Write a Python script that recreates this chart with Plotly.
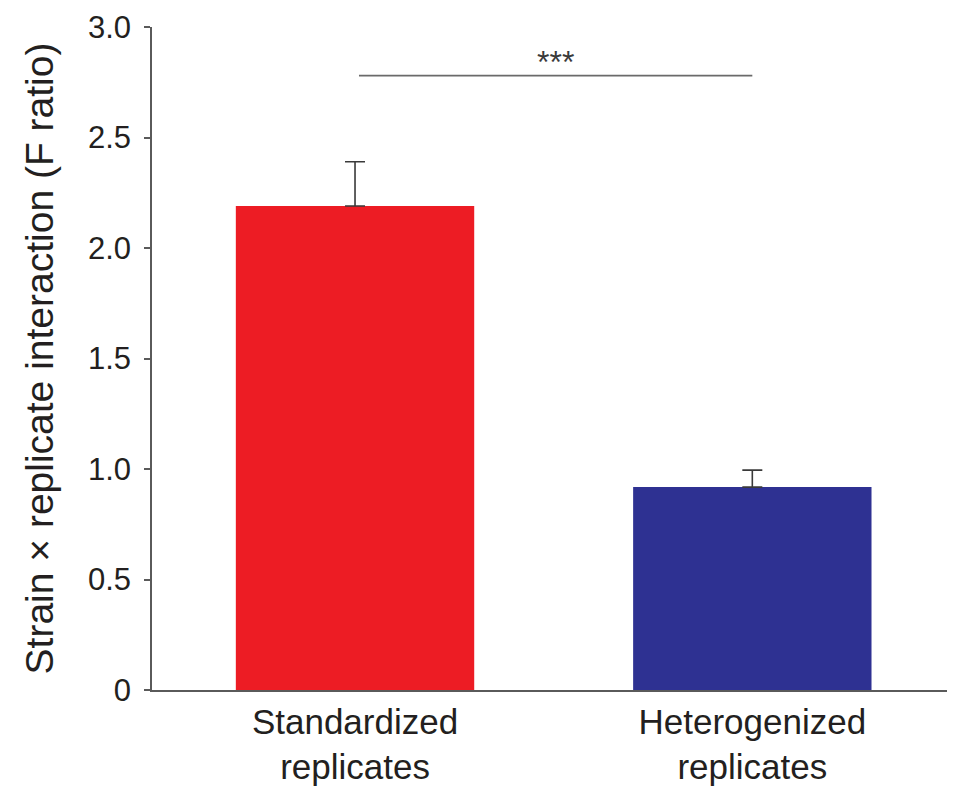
import plotly.graph_objects as go

categories = ["Standardized<br>replicates", "Heterogenized<br>replicates"]
positions = [0, 1]
values = [2.19, 0.918]
errors_up = [0.20, 0.077]
bar_colors = ["#ED1C24", "#2E3192"]
y_tick_vals = [0, 0.5, 1.0, 1.5, 2.0, 2.5, 3.0]
y_tick_text = ["0", "0.5", "1.0", "1.5", "2.0", "2.5", "3.0"]
sig_y = 2.78
sig_x = [0.01, 1.0]
sig_label = "***"

font_family = "Liberation Sans, Arial, sans-serif"
text_color = "#231F20"
axis_color = "#5a5a5a"

fig = go.Figure()
fig.add_trace(go.Bar(
    x=positions,
    y=values,
    width=0.6,
    marker=dict(color=bar_colors, line=dict(width=0)),
    error_y=dict(
        type="data",
        symmetric=False,
        array=errors_up,
        arrayminus=[0, 0],
        color="#3a3a3a",
        thickness=1.6,
        width=10,
    ),
    showlegend=False,
))

fig.add_shape(type="line", xref="x", yref="y",
              x0=sig_x[0], x1=sig_x[1], y0=sig_y, y1=sig_y,
              line=dict(color="#6a6a6a", width=1.6))
fig.add_annotation(x=(sig_x[0] + sig_x[1]) / 2, y=sig_y, xref="x", yref="y",
                   text=sig_label, showarrow=False, yanchor="bottom", yshift=-6,
                   font=dict(size=32, color="#3a3a3a", family=font_family))

fig.update_layout(
    width=939, height=782,
    margin=dict(l=144, r=0, t=19, b=100),
    plot_bgcolor="white", paper_bgcolor="white",
    font=dict(family=font_family, color=text_color),
)
fig.update_xaxes(
    range=[-0.511, 1.49],
    tickvals=positions, ticktext=categories,
    showline=True, linecolor=axis_color, linewidth=1.6,
    ticks="", showgrid=False, zeroline=False,
    ticklabelstandoff=0, automargin=False,
    tickfont=dict(size=35, color=text_color),
)
fig.update_yaxes(
    range=[0, 3.0],
    tickvals=y_tick_vals, ticktext=y_tick_text,
    showline=True, linecolor=axis_color, linewidth=1.6,
    ticks="outside", ticklen=6, tickcolor=axis_color, tickwidth=1.6,
    ticklabelstandoff=7, ticklabeloverflow="allow", automargin=False,
    showgrid=False, zeroline=False,
    tickfont=dict(size=31, color=text_color),
    title=dict(text="Strain × replicate interaction (F ratio)",
               font=dict(size=39, color=text_color), standoff=22),
)

fig.write_html("out.html")
